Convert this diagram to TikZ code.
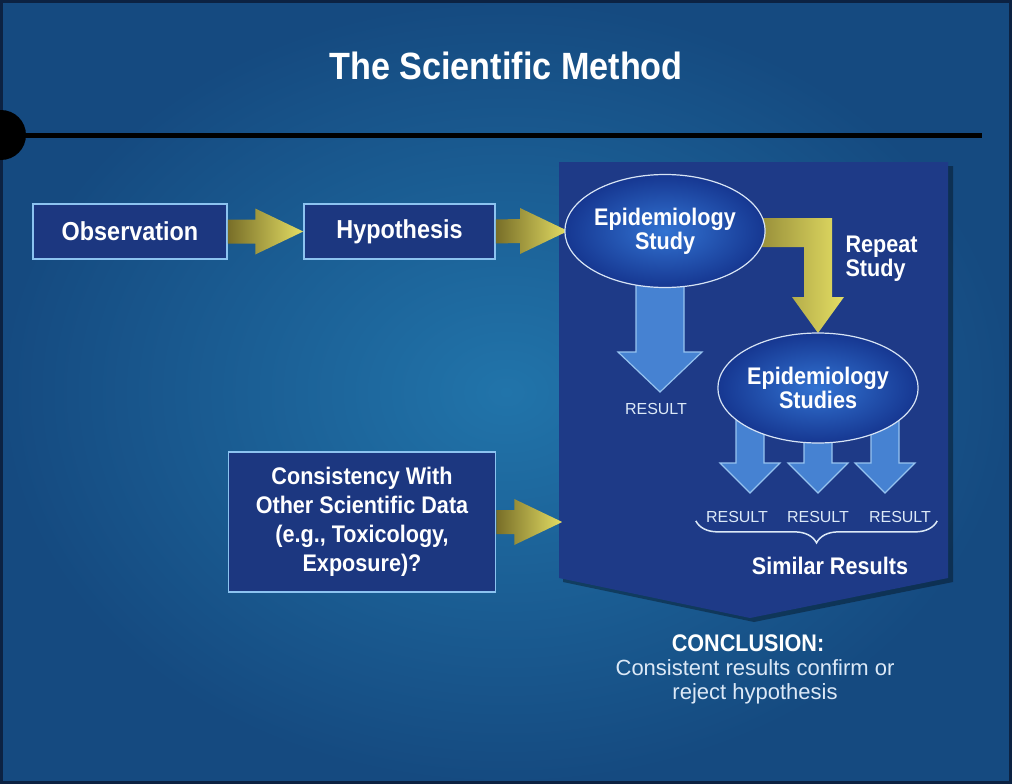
\documentclass[tikz,border=0pt]{standalone}
\usepackage{fontspec}
\setmainfont{Liberation Sans}
\newfontfamily\narrowfont{Liberation Sans}[FakeStretch=0.9]
\usetikzlibrary{shapes.geometric,calc,decorations.pathreplacing}

\definecolor{bgin}{RGB}{33,116,170}
\definecolor{bgout}{RGB}{21,74,128}
\definecolor{bgedge}{RGB}{12,34,66}
\definecolor{panel}{RGB}{30,58,135}
\definecolor{boxfill}{RGB}{28,55,128}
\definecolor{boxline}{RGB}{140,195,240}
\definecolor{ellin}{RGB}{50,115,210}
\definecolor{ellout}{RGB}{22,55,145}
\definecolor{ringline}{RGB}{215,228,245}
\definecolor{arrowfill}{RGB}{70,130,210}
\definecolor{arrowline}{RGB}{150,195,240}
\definecolor{golddark}{RGB}{120,110,40}
\definecolor{goldlight}{RGB}{228,222,100}
\definecolor{paletext}{RGB}{220,233,247}

\newcommand{\titlefont}{\narrowfont\bfseries\fontsize{38}{44}\selectfont}
\newcommand{\boxfont}{\narrowfont\bfseries\fontsize{26}{30}\selectfont}
\newcommand{\ellfont}{\narrowfont\bfseries\fontsize{24}{24}\selectfont}
\newcommand{\consfont}{\narrowfont\bfseries\fontsize{24}{29}\selectfont}
\newcommand{\resfont}{\fontsize{16}{18}\selectfont}

% horizontal gold arrow: from, to
\newcommand{\goldarrow}[2]{%
  \shade[left color=golddark,right color=goldlight]
    ($(#1)+(0,-12)$) -- ($(#2)+(-48,-12)$) -- ($(#2)+(-48,-23)$) -- (#2)
    -- ($(#2)+(-48,23)$) -- ($(#2)+(-48,12)$) -- ($(#1)+(0,12)$) -- cycle;}
% downward blue arrow: from, to, shaft half, head half, head length
\newcommand{\bluearrow}[5]{%
  \path[draw=arrowline,line width=1.2pt,fill=arrowfill]
    ($(#1)+(-#3,0)$) -- ($(#2)+(-#3,-#5)$) -- ($(#2)+(-#4,-#5)$) -- (#2)
    -- ($(#2)+(#4,-#5)$) -- ($(#2)+(#3,-#5)$) -- ($(#1)+(#3,0)$) -- cycle;}

\begin{document}
\begin{tikzpicture}[x=1pt,y=-1pt]
      \tikzstyle{box}=[draw=boxline,line width=1.5pt,fill=boxfill,text=white,align=center,inner sep=0pt]
      \tikzstyle{study}=[ellipse,draw=ringline,line width=1.2pt,inner color=ellin,outer color=ellout,text=white,font=\ellfont,align=center,inner sep=0pt]
      \tikzstyle{result}=[text=paletext,font=\resfont,inner sep=2pt]
      \useasboundingbox (0,0) rectangle (1012,784);
      % background
      \shade[inner color=bgin,outer color=bgout] (0,0) rectangle (1012,784);
      \draw[bgedge,line width=3pt] (1.5,1.5) rectangle (1010.5,782.5);
      \begin{scope}
        \clip (0,0) rectangle (1012,784);
        \fill[black] (1,135) circle (25);
      \end{scope}
      \draw[black,line width=5pt] (1,135) -- (982,135);
      \node[text=white,font=\titlefont] (title) at (506,66) {The Scientific Method};
      % panel
      \fill[black,opacity=0.35] (563,166) -- (953,166) -- (953,582) -- (754,622) -- (563,582) -- cycle;
      \fill[panel] (559,162) -- (948,162) -- (948,578) -- (750,618) -- (559,578) -- cycle;
      % nodes
      \node[box,font=\boxfont,minimum width=194pt,minimum height=55pt] (obs) at (130,231.5) {Observation};
      \node[box,font=\boxfont,minimum width=191pt,minimum height=55pt] (hyp) at (399.5,231.5) {Hypothesis};
      \node[box,font=\consfont,minimum width=267pt,minimum height=140pt] (cons) at (362,522)
        {Consistency With\\Other Scientific Data\\(e.g., Toxicology,\\Exposure)?};
      \path (cons.east) ++(66,0) coordinate (pin);
      \path (665,231) coordinate (c1);
      \path (818,388) coordinate (c2);
      \coordinate (tip1) at (660,392);
      \coordinate (r1) at (750,493);
      \coordinate (r2) at (818,493);
      \coordinate (r3) at (885,493);
      % arrows behind the studies
      \goldarrow{obs.east}{hyp.west}
      \path (c1) ++(-97,0) coordinate (st1w);
      \goldarrow{hyp.east}{st1w}
      \goldarrow{cons.east}{pin}
      \path (c2) ++(0,-55) coordinate (st2n);
      \coordinate (bend) at (st2n |- c1);
      \shade[left color=golddark,right color=goldlight]
        ($(c1)+(60,-13)$) -- ($(bend)+(14,-13)$) -- ($(st2n)+(14,-36)$) -- ($(st2n)+(26,-36)$) -- (st2n)
        -- ($(st2n)+(-26,-36)$) -- ($(st2n)+(-14,-36)$) -- ($(bend)+(-14,16)$) -- ($(c1)+(60,16)$) -- cycle;
      \bluearrow{tip1 |- c1}{tip1}{24}{42}{40}
      \bluearrow{r1 |- c2}{r1}{14}{30}{30}
      \bluearrow{r2 |- c2}{r2}{14}{30}{30}
      \bluearrow{r3 |- c2}{r3}{14}{30}{30}
      \node[study,minimum width=194pt,minimum height=113pt] (st1) at (c1) {Epidemiology\\Study};
      \node[study,minimum width=183pt,minimum height=110pt] (st2) at (c2) {Epidemiology\\Studies};
      \node[anchor=west,text=white,font=\ellfont,align=left] (rep) at (842,259) {Repeat\\Study};
      % results
      \node[result] (res0) at (656,409) {RESULT};
      \node[result] (res1) at (737,517) {RESULT};
      \node[result] (res2) at (818,517) {RESULT};
      \node[result] (res3) at (900,517) {RESULT};
      \draw[paletext,line width=1.5pt,decorate,decoration={brace,amplitude=22pt}]
        ($(res3.south east)+(4,-4)$) -- ($(res1.south west)+(-8,-4)$);
      \node[text=white,font=\ellfont] (sim) at (830,566) {Similar Results};
      \node[text=white,font=\narrowfont\bfseries\fontsize{24}{24}\selectfont] (concl) at (748,643) {CONCLUSION:};
      \node[text=paletext,font=\fontsize{22}{24}\selectfont,align=center] (concltext) at (755,682)
        {Consistent results confirm or\\reject hypothesis};
    \end{tikzpicture}
\end{document}
